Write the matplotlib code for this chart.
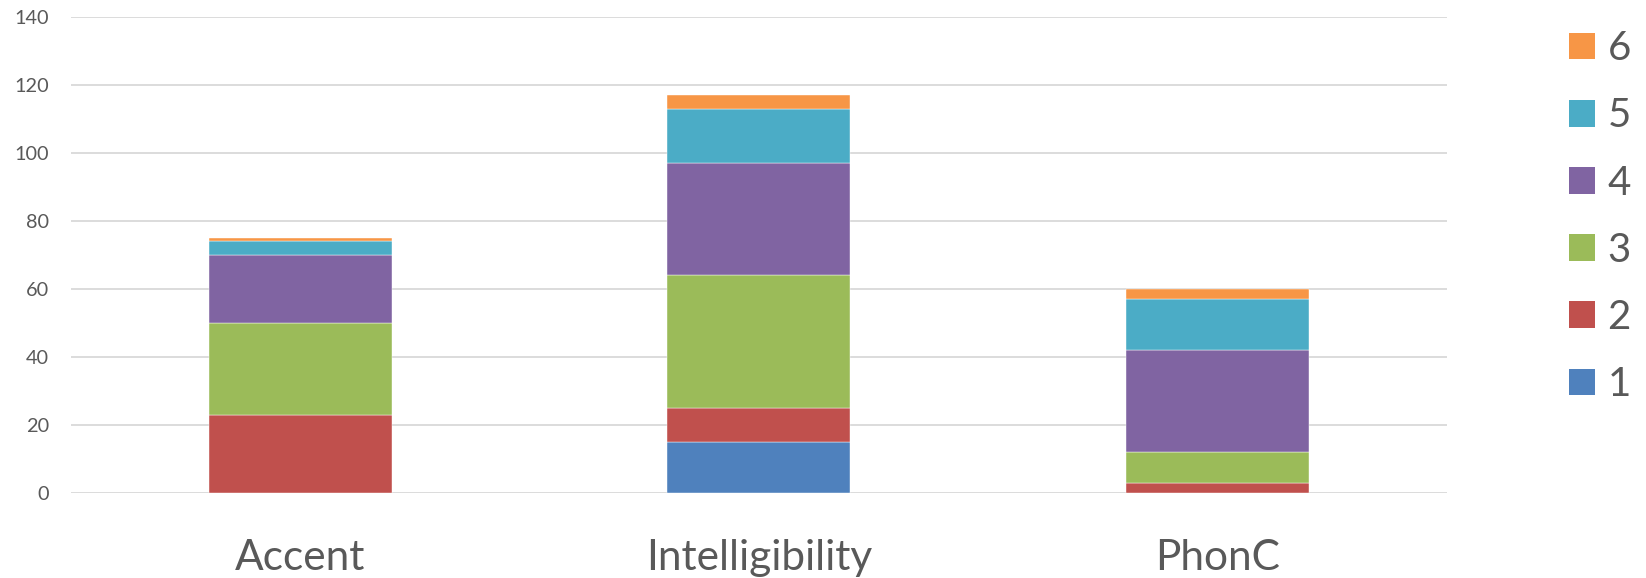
import matplotlib.pyplot as plt
from matplotlib.patches import Patch

categories = ["Accent", "Intelligibility", "PhonC"]
levels = ["1", "2", "3", "4", "5", "6"]
counts = {
    "1": [0, 15, 0],
    "2": [23, 10, 3],
    "3": [27, 39, 9],
    "4": [20, 33, 30],
    "5": [4, 16, 15],
    "6": [1, 4, 3],
}
colors = {
    "1": "#4F81BD",
    "2": "#C0504D",
    "3": "#9BBB59",
    "4": "#8064A2",
    "5": "#4BACC6",
    "6": "#F79646",
}
y_ticks = [0, 20, 40, 60, 80, 100, 120, 140]

plt.rcParams["font.family"] = ["Lato", "DejaVu Sans"]
text_color = "#595959"

fig = plt.figure(figsize=(16.46, 5.78), dpi=100)
ax = fig.add_axes([71 / 1646, 85.3 / 578, 1375.5 / 1646, 475.4 / 578])

x = list(range(len(categories)))
bottom = [0] * len(categories)
for lvl in levels:
    vals = counts[lvl]
    ax.bar(x, vals, width=0.4, bottom=bottom, color=colors[lvl],
           edgecolor="#ffffff", linewidth=0.3, zorder=3)
    bottom = [b + v for b, v in zip(bottom, vals)]

ax.set_xlim(-0.5, len(categories) - 0.5)
ax.set_ylim(0, 140)
ax.set_yticks(y_ticks)
ax.set_yticklabels([str(t) for t in y_ticks])
ax.set_xticks(x)
ax.set_xticklabels(categories)
ax.grid(axis="y", color="#D9D9D9", linewidth=1.3, zorder=0)
for s in ax.spines.values():
    s.set_visible(False)
ax.tick_params(axis="y", length=0, pad=16, labelsize=14.3, labelcolor=text_color)
ax.tick_params(axis="x", length=0, pad=33.5, labelsize=30.5, labelcolor=text_color)

# legend runs top-down from 6 to 1
handles = [Patch(facecolor=colors[l], edgecolor="none") for l in reversed(levels)]
fig.legend(handles, list(reversed(levels)), loc="upper left",
           bbox_to_anchor=(1553 / 1646, 564 / 578), frameon=False,
           fontsize=29, labelcolor=text_color, handlelength=0.65,
           handleheight=0.65, handletextpad=0.3, labelspacing=0.75,
           borderaxespad=0)

fig.savefig("out.png", dpi=100)
